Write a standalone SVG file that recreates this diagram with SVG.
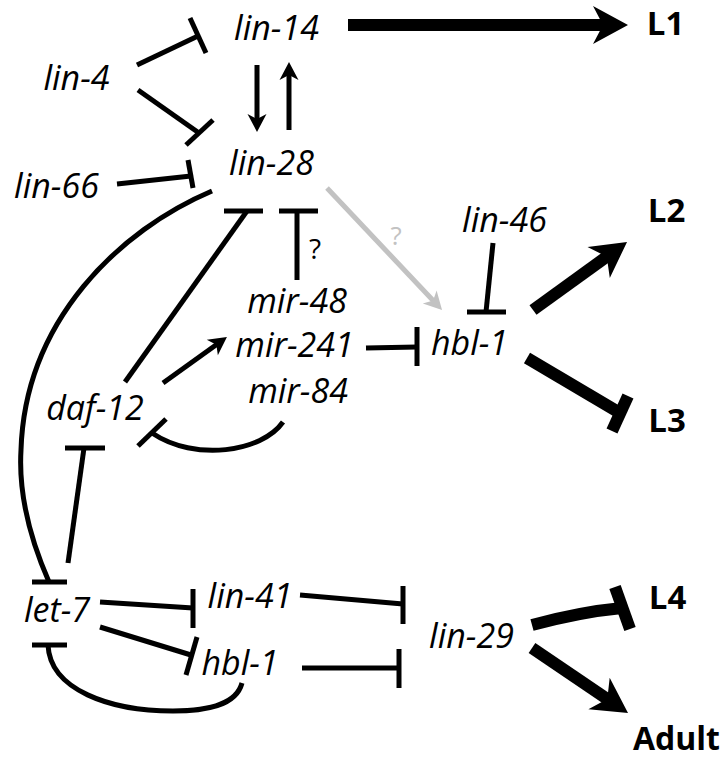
<svg xmlns="http://www.w3.org/2000/svg" width="728" height="758" viewBox="0 0 728 758">
<style>
.n{font-family:"Open Sans","Liberation Sans",sans-serif;font-style:italic;font-size:34px;fill:#000;text-anchor:middle}
.s{font-family:"Open Sans","Liberation Sans",sans-serif;font-weight:bold;font-size:33px;fill:#000;text-anchor:middle}
.q{font-family:"Open Sans","Liberation Sans",sans-serif;font-size:28px;text-anchor:middle}
.t{fill:none;stroke:#000;stroke-width:5}
.k{fill:none;stroke:#000;stroke-width:12}
.g{fill:none;stroke:#c2c2c2;stroke-width:5}
.b{stroke:#000;stroke-width:5}
.bk{stroke:#000;stroke-width:12}
</style>
<defs>
<marker id="ak" markerUnits="userSpaceOnUse" orient="auto" refX="0" refY="0" markerWidth="60" markerHeight="60" viewBox="-30 -30 60 60" overflow="visible"><path d="M22,0 L-13,-19 L-3,0 L-13,19 Z" fill="#000"/></marker>
<marker id="at" markerUnits="userSpaceOnUse" orient="auto" refX="0" refY="0" markerWidth="30" markerHeight="30" viewBox="-15 -15 30 30" overflow="visible"><path d="M11,0 L-7,-9.5 L-2,0 L-7,9.5 Z" fill="#000"/></marker>
<marker id="ag" markerUnits="userSpaceOnUse" orient="auto" refX="0" refY="0" markerWidth="30" markerHeight="30" viewBox="-15 -15 30 30" overflow="visible"><path d="M11,0 L-7,-9.5 L-2,0 L-7,9.5 Z" fill="#c2c2c2"/></marker>
</defs>
<g id="connectors">
<line class="t" x1="137" y1="65" x2="198" y2="36"/><line class="b" x1="190" y1="18" x2="206" y2="53"/>
<line class="t" x1="138" y1="90" x2="199" y2="133"/><line class="b" x1="186" y1="145" x2="213" y2="120"/>
<line class="t" x1="117" y1="184" x2="191" y2="176"/><line class="b" x1="188" y1="160" x2="193" y2="188"/>
<line class="t" x1="257" y1="65" x2="257" y2="121" marker-end="url(#at)"/>
<line class="t" x1="289" y1="130" x2="289" y2="73" marker-end="url(#at)"/>
<line class="k" x1="348" y1="25" x2="606" y2="25" marker-end="url(#ak)"/>
<line class="g" x1="327" y1="188" x2="434.5" y2="302" marker-end="url(#ag)"/>
<line class="t" x1="297" y1="280" x2="297" y2="211"/><line class="b" x1="279" y1="211" x2="318" y2="211"/>
<line class="t" x1="125" y1="382" x2="247" y2="211"/><line class="b" x1="224" y1="211" x2="263" y2="211"/>
<line class="t" x1="163" y1="383" x2="218" y2="343.5" marker-end="url(#at)"/>
<path class="t" d="M283,422 C262,452 195,462 152,433"/><line class="b" x1="138" y1="446" x2="166" y2="419"/>
<path class="t" d="M212,191 C120,230 25,320 21,450 C18,500 35,550 49,582"/><line class="b" x1="32" y1="582" x2="67" y2="582"/>
<line class="t" x1="68" y1="563" x2="84" y2="448"/><line class="b" x1="65" y1="448" x2="105" y2="448"/>
<line class="t" x1="366" y1="348" x2="417" y2="347"/><line class="b" x1="417" y1="327" x2="417" y2="366"/>
<line class="t" x1="493" y1="243" x2="486" y2="312"/><line class="b" x1="467" y1="312" x2="506" y2="312"/>
<line class="k" x1="533" y1="310" x2="609.2" y2="254.9" marker-end="url(#ak)"/>
<line class="k" x1="527" y1="358" x2="620" y2="413"/><line class="bk" x1="628" y1="396" x2="612" y2="431"/>
<line class="t" x1="100" y1="602" x2="193" y2="608"/><line class="b" x1="193" y1="589" x2="193" y2="628"/>
<line class="t" x1="100" y1="627" x2="191" y2="655"/><line class="b" x1="197" y1="637" x2="186" y2="675"/>
<path class="t" d="M242,683 C236,706 205,711 173,711 C110,711 50,690 48,645"/><line class="b" x1="32" y1="645" x2="67" y2="645"/>
<line class="t" x1="300" y1="595" x2="403" y2="604"/><line class="b" x1="403" y1="586" x2="403" y2="624"/>
<line class="t" x1="302" y1="668" x2="399" y2="668"/><line class="b" x1="399" y1="649" x2="399" y2="688"/>
<path class="k" d="M532,625 Q580,612 622,608"/><line class="bk" x1="615" y1="587" x2="630" y2="629"/>
<line class="k" x1="532" y1="648" x2="609.8" y2="700.7" marker-end="url(#ak)"/>
</g>
<text class="q" x="315" y="259">?</text>
<text class="q" x="396" y="245" fill="#c2c2c2" style="font-size:26px">?</text>
<g id="lin-14"><text class="n" x="276.5" y="40">lin-14</text></g>
<g id="lin-4"><text class="n" x="76.5" y="90">lin-4</text></g>
<g id="lin-28"><text class="n" x="271.5" y="175">lin-28</text></g>
<g id="lin-66"><text class="n" x="56.5" y="198">lin-66</text></g>
<g id="lin-46"><text class="n" x="504.5" y="232">lin-46</text></g>
<g id="mir-48"><text class="n" x="297" y="313">mir-48</text></g>
<g id="mir-241"><text class="n" x="294.5" y="357">mir-241</text></g>
<g id="hbl-1-top"><text class="n" x="469.5" y="355">hbl-1</text></g>
<g id="mir-84"><text class="n" x="298" y="403">mir-84</text></g>
<g id="daf-12"><text class="n" x="95" y="420">daf-12</text></g>
<g id="let-7"><text class="n" x="57" y="622">let-7</text></g>
<g id="lin-41"><text class="n" x="250" y="608">lin-41</text></g>
<g id="hbl-1-bottom"><text class="n" x="240" y="675">hbl-1</text></g>
<g id="lin-29"><text class="n" x="471.5" y="648">lin-29</text></g>
<g id="L1"><text class="s" x="665.5" y="35">L1</text></g>
<g id="L2"><text class="s" x="666.5" y="222">L2</text></g>
<g id="L3"><text class="s" x="667" y="432">L3</text></g>
<g id="L4"><text class="s" x="667.5" y="609">L4</text></g>
<g id="Adult"><text class="s" x="720" y="750" style="text-anchor:end;font-size:32px">Adult</text></g>
</svg>
